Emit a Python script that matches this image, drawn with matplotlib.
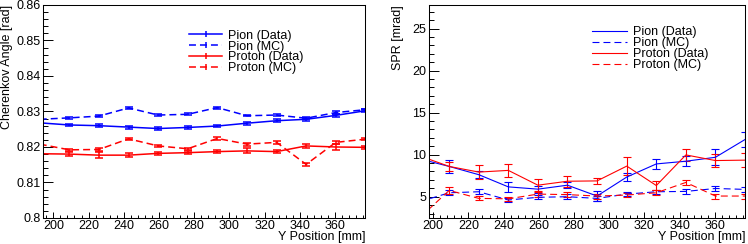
import matplotlib
matplotlib.use("Agg")
import matplotlib.pyplot as plt
from matplotlib.lines import Line2D
from matplotlib.ticker import MultipleLocator, FixedLocator, FixedFormatter

plt.rcParams['font.family'] = ['Liberation Sans', 'DejaVu Sans']
plt.rcParams['lines.scale_dashes'] = False

# Y position of the scan points [mm]
yPos = [192.3, 209.1, 225.9, 242.7, 259.5, 276.3, 293.1, 310.0, 326.8, 343.6, 360.4, 377.2]

# Cherenkov angle [rad]
anglePionData = [0.8268, 0.8262, 0.8260, 0.8256, 0.8252, 0.8255, 0.8259, 0.8267, 0.8274, 0.8278, 0.8289, 0.8302]
anglePionDataErr = [0.0004, 0.0004, 0.0004, 0.0004, 0.0003, 0.0003, 0.0003, 0.0004, 0.0005, 0.0004, 0.0005, 0.0004]
anglePionMC = [0.8278, 0.8282, 0.8287, 0.8310, 0.8290, 0.8292, 0.8311, 0.8288, 0.8290, 0.8281, 0.8297, 0.8305]
anglePionMCErr = [0.0003, 0.0002, 0.0002, 0.0003, 0.0002, 0.0003, 0.0003, 0.0002, 0.0002, 0.0003, 0.0004, 0.0002]
angleProtonData = [0.8181, 0.8180, 0.8177, 0.8177, 0.8182, 0.8184, 0.8187, 0.8189, 0.8187, 0.8203, 0.8200, 0.8199]
angleProtonDataErr = [0.0005, 0.0006, 0.0008, 0.0006, 0.0005, 0.0005, 0.0004, 0.0007, 0.0005, 0.0005, 0.0008, 0.0005]
angleProtonMC = [0.8208, 0.8192, 0.8193, 0.8223, 0.8203, 0.8195, 0.8224, 0.8208, 0.8213, 0.8151, 0.8213, 0.8222]
angleProtonMCErr = [0.0003, 0.0003, 0.0003, 0.0003, 0.0004, 0.0003, 0.0003, 0.0004, 0.0004, 0.0005, 0.0005, 0.0003]

# single photon resolution [mrad]
sprPionData = [9.5, 8.6, 7.62, 6.17, 5.9, 6.37, 5.08, 7.34, 8.9, 9.22, 9.69, 11.8]
sprPionDataErr = [0.6, 0.78, 0.45, 0.6, 0.4, 0.35, 0.6, 0.5, 0.6, 0.6, 0.95, 0.85]
sprPionMC = [4.4, 5.47, 5.59, 4.61, 4.93, 5.0, 4.8, 5.31, 5.59, 5.63, 5.98, 5.87]
sprPionMCErr = [0.3, 0.3, 0.3, 0.25, 0.25, 0.3, 0.3, 0.25, 0.25, 0.3, 0.3, 0.3]
sprProtonData = [9.86, 8.6, 7.93, 8.13, 6.37, 6.84, 6.88, 8.64, 6.33, 9.97, 9.3, 9.35]
sprProtonDataErr = [0.5, 0.5, 0.82, 0.78, 0.72, 0.68, 0.4, 1.1, 0.55, 0.72, 0.82, 0.8]
sprProtonMC = [2.5, 5.75, 4.8, 4.75, 5.31, 5.25, 5.08, 5.2, 5.47, 6.7, 5.08, 5.08]
sprProtonMCErr = [0.3, 0.4, 0.25, 0.25, 0.3, 0.3, 0.3, 0.25, 0.3, 0.3, 0.3, 0.3]

labels = ["Pion (Data)", "Pion (MC)", "Proton (Data)", "Proton (MC)"]
angleTicks = [0.80, 0.81, 0.82, 0.83, 0.84, 0.85, 0.86]
angleTickLabels = ["0.8", "0.81", "0.82", "0.83", "0.84", "0.85", "0.86"]
sprTicks = [5, 10, 15, 20, 25]
sprTickLabels = ["5", "10", "15", "20", "25"]

FS = 9
DASH = (0, (5, 2.9))


def styleAxis(ax, yTicks, yLabels, yMinor):
    for side in ['top', 'right', 'bottom', 'left']:
        ax.spines[side].set_linewidth(0.75)
    ax.xaxis.set_major_locator(MultipleLocator(20))
    ax.xaxis.set_minor_locator(MultipleLocator(4))
    ax.yaxis.set_major_locator(FixedLocator(yTicks))
    ax.yaxis.set_major_formatter(FixedFormatter(yLabels))
    ax.yaxis.set_minor_locator(MultipleLocator(yMinor))
    ax.tick_params(axis='both', which='both', direction='in', top=False, right=False,
                   width=0.7, labelsize=FS)
    ax.tick_params(axis='x', which='major', length=4.6, pad=1.5)
    ax.tick_params(axis='x', which='minor', length=2.3)
    ax.tick_params(axis='y', which='major', length=7, pad=2)
    ax.tick_params(axis='y', which='minor', length=3.5)
    ax.text(1.0, -0.103, "Y Position [mm]", transform=ax.transAxes, ha='right', va='baseline', fontsize=FS)


def drawSeries(ax, values, errors, color, ls, lw):
    ax.errorbar(yPos, values, yerr=errors, color=color, linestyle=ls, linewidth=lw,
                elinewidth=lw, capsize=3, capthick=lw)


def legendHandles(lw, withTick):
    handles = []
    for color, ls in [('blue', '-'), ('blue', DASH), ('red', '-'), ('red', DASH)]:
        if withTick:
            handles.append(Line2D([], [], color=color, linestyle=ls, linewidth=lw,
                                  marker='|', markersize=5, markeredgewidth=lw))
        else:
            handles.append(Line2D([], [], color=color, linestyle=ls, linewidth=lw))
    return handles


fig = plt.figure(figsize=(7.48, 2.44), dpi=100)

# left: Cherenkov angle
ax1 = fig.add_axes([0.0579, 0.1066, 0.4305, 0.873])
drawSeries(ax1, anglePionData, anglePionDataErr, 'blue', '-', 1.1)
drawSeries(ax1, anglePionMC, anglePionMCErr, 'blue', DASH, 1.1)
drawSeries(ax1, angleProtonData, angleProtonDataErr, 'red', '-', 1.1)
drawSeries(ax1, angleProtonMC, angleProtonMCErr, 'red', DASH, 1.1)
ax1.set_xlim(194.3, 377.2)
ax1.set_ylim(0.80, 0.86)
styleAxis(ax1, angleTicks, angleTickLabels, 0.002)
ax1.legend(legendHandles(1.1, True), labels, loc='upper left', bbox_to_anchor=(0.4525, 0.884),
           frameon=False, fontsize=FS, borderpad=0, borderaxespad=0, handlelength=2.64,
           handletextpad=0.45, labelspacing=-0.09, numpoints=1)
fig.text(0.002, 0.9795, "Cherenkov Angle [rad]", rotation=90, ha='left', va='top', fontsize=FS)

# right: SPR
ax2 = fig.add_axes([0.5735, 0.1066, 0.4225, 0.873])
drawSeries(ax2, sprPionData, sprPionDataErr, 'blue', '-', 0.8)
drawSeries(ax2, sprPionMC, sprPionMCErr, 'blue', DASH, 0.8)
drawSeries(ax2, sprProtonData, sprProtonDataErr, 'red', '-', 0.8)
drawSeries(ax2, sprProtonMC, sprProtonMCErr, 'red', DASH, 0.8)
ax2.set_xlim(197.6, 377.2)
ax2.set_ylim(2.47, 27.8)
styleAxis(ax2, sprTicks, sprTickLabels, 1)
ax2.legend(legendHandles(0.8, False), labels, loc='upper left', bbox_to_anchor=(0.516, 0.901),
           frameon=False, fontsize=FS, borderpad=0, borderaxespad=0, handlelength=2.8,
           handletextpad=0.45, labelspacing=-0.07)
fig.text(0.524, 0.9795, "SPR [mrad]", rotation=90, ha='left', va='top', fontsize=FS)

fig.savefig("out.png", dpi=100)
